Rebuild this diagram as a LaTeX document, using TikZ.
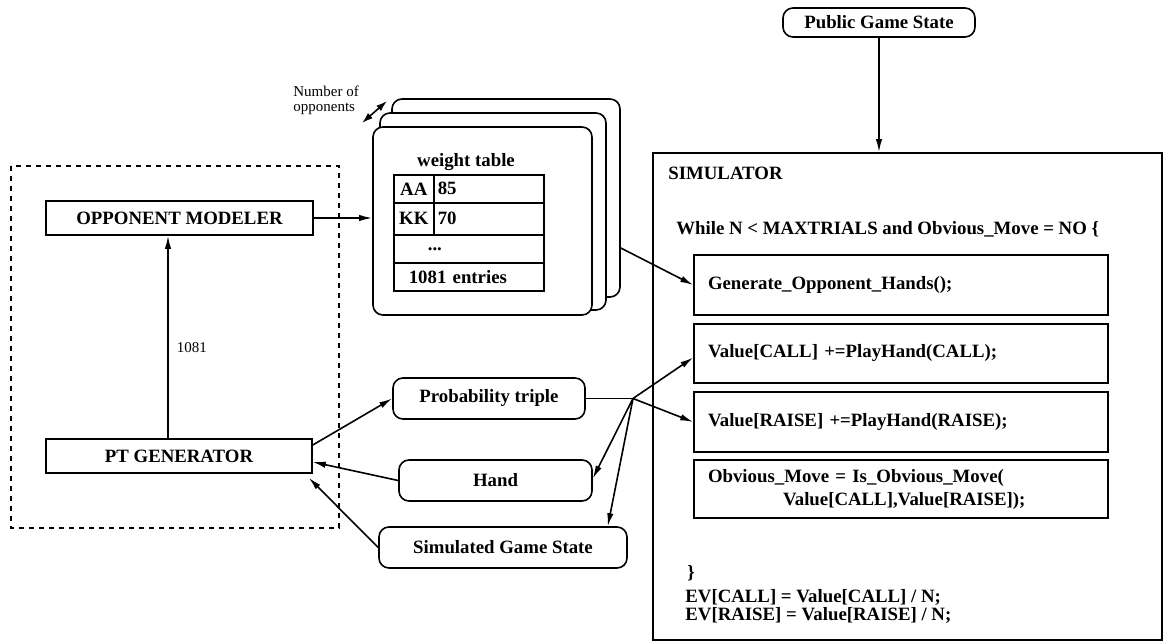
\documentclass[tikz,border=0pt]{standalone}
\usepackage{fontspec}
\setmainfont{Liberation Serif}
\usepackage{tikz}
\usetikzlibrary{arrows.meta}
\usetikzlibrary{shapes}

\newcommand{\boxfont}{\bfseries\fontsize{9.4}{11}\selectfont}

\tikzset{
  box/.style={draw, line width=0.8pt, inner sep=0pt, font=\boxfont},
  rbox/.style={box, rounded corners=5pt},
  card/.style={draw, line width=0.8pt, rounded corners=5pt, fill=white, inner sep=0pt},
  cell/.style={draw, line width=0.8pt, inner sep=0pt, anchor=north west, font=\boxfont},
  lbl/.style={inner sep=0pt, anchor=west, font=\boxfont},
  small/.style={inner sep=0pt, anchor=west, align=left, font=\fontsize{7.5}{7.5}\selectfont},
  conn/.style={-{Latex[length=6.5pt,width=3.2pt]}, line width=0.8pt},
}

\begin{document}
\begin{tikzpicture}[x=0.5pt,y=0.5pt,yscale=-1,xscale=1]
\useasboundingbox (0,0) rectangle (1164,642);

%Shape: dashed frame
\draw [line width=0.8pt, dash pattern=on 2.5pt off 2.5pt] (11,166) rectangle (339,528);

%Shape: modeler and generator
\node [box, minimum width=133.5pt, minimum height=17pt] (om) at (179.5,218) {OPPONENT MODELER};
\node [box, minimum width=133pt, minimum height=17pt] (ptg) at (179,456) {PT GENERATOR};

%Shape: stacked weight tables
\node [card, minimum width=114pt, minimum height=99pt] (wback) at (506,198) {};
\node [card, minimum width=113pt, minimum height=98.5pt] (wmid) at (493,211.5) {};
\node [card, minimum width=109.5pt, minimum height=94pt] (wfront) at (482.5,221) {};

% Text Node
\node [font=\boxfont, inner sep=0pt] (wtitle) at (466,162) {weight table};
\node [cell, minimum width=20pt, minimum height=14pt] (aa) at (393,174) {AA};
\node [cell, minimum width=55pt, minimum height=14pt, inner xsep=2pt, text width=51pt, align=left] (v85) at (433,174) {85};
\node [cell, minimum width=20pt, minimum height=16pt] (kk) at (393,202) {KK};
\node [cell, minimum width=55pt, minimum height=16pt, inner xsep=2pt, text width=51pt, align=left] (v70) at (433,202) {70};
\node [cell, minimum width=75pt, minimum height=14pt, inner xsep=17pt, text width=41pt, align=left] (dots) at (393,234) {...};
\node [cell, minimum width=75pt, minimum height=14pt, inner xsep=7.5pt, text width=60pt, align=left] (entries) at (393,262) {1081 entries};

% Text Node
\node [small] (nopp) at (293,100) {Number of\\opponents};
\coordinate (na) at (362,123);
\coordinate (nb) at (387,101);
\draw [{Latex[length=5.5pt,width=3.5pt]}-{Latex[length=5.5pt,width=3.5pt]}, line width=0.8pt] (na) -- (nb);

%Shape: rounded message boxes
\node [rbox, minimum width=96pt, minimum height=20.5pt] (prob) at (489,398.5) {Probability triple};
\node [rbox, minimum width=96.5pt, minimum height=20.5pt] (hand) at (495.5,480.5) {Hand};
\node [rbox, minimum width=124pt, minimum height=20.5pt] (sgs) at (503,547.5) {Simulated Game State};
\node [rbox, minimum width=96pt, minimum height=14.5pt] (pgs) at (879,22.5) {Public Game State};

%Shape: simulator
\node [box, line width=0.9pt, minimum width=254.5pt, minimum height=243.5pt] (sim) at (907.5,396.5) {};
\node [lbl] (simtitle) at (668,173) {SIMULATOR};
\node [lbl] (loop) at (676,229) {While N < MAXTRIALS and Obvious\_Move = NO \{};
\node [box, minimum width=207pt, minimum height=30pt, inner xsep=7pt, text width=193pt, align=left] (gen) at (901,285) {Generate\_Opponent\_Hands();};
\node [box, minimum width=207pt, minimum height=29.5pt, inner xsep=7pt, text width=193pt, align=left] (vcall) at (901,353.5) {\raisebox{2.5pt}{Value[CALL] +=PlayHand(CALL);}};
\node [box, minimum width=207pt, minimum height=30pt, inner xsep=7pt, text width=193pt, align=left] (vraise) at (901,422) {Value[RAISE] +=PlayHand(RAISE);};
\node [box, minimum width=207pt, minimum height=29pt, inner xsep=7pt, text width=193pt, align=left, font=\bfseries\fontsize{9.4}{11.5}\selectfont] (obv) at (901,489) {Obvious\_Move = Is\_Obvious\_Move(\\\hspace*{37.5pt}Value[CALL],Value[RAISE]);};
\node [lbl] (close) at (687,573) {\}};
\node [lbl, align=left, font=\bfseries\fontsize{9.4}{9}\selectfont] (ev) at (685,606) {EV[CALL] = Value[CALL] / N;\\EV[RAISE] = Value[RAISE] / N;};

%Straight Lines: connectors
\coordinate (jn) at (633,398.5);
\draw [conn] ([xshift=-5.5pt]ptg.north) -- ([xshift=-5.5pt]ptg.north |- om.south) node [small, pos=0.45, right=4pt] (cnt) {1081};
\draw [conn] (om.east) -- (om.east -| wfront.west);
\draw [conn] ([yshift=25pt]wback.east) -- (gen.west);
\draw [conn] ([yshift=-5.5pt]ptg.east) -- (prob.west);
\draw [conn] (hand.west) -- ([yshift=3pt]ptg.east);
\draw [conn] (sgs.west) -- ([xshift=-2pt,yshift=2pt]ptg.south east);
\draw [line width=0.8pt] (prob.east) -- (jn);
\draw [conn] (jn) -- ([yshift=2pt]vcall.west);
\draw [conn] (jn) -- (vraise.west);
\draw [conn] (jn) -- ([yshift=-1pt]hand.east);
\draw [conn] (jn) -- ([xshift=-10pt]sgs.north east);
\draw [conn] (pgs.south) -- (pgs.south |- sim.north);

\end{tikzpicture}
\end{document}
